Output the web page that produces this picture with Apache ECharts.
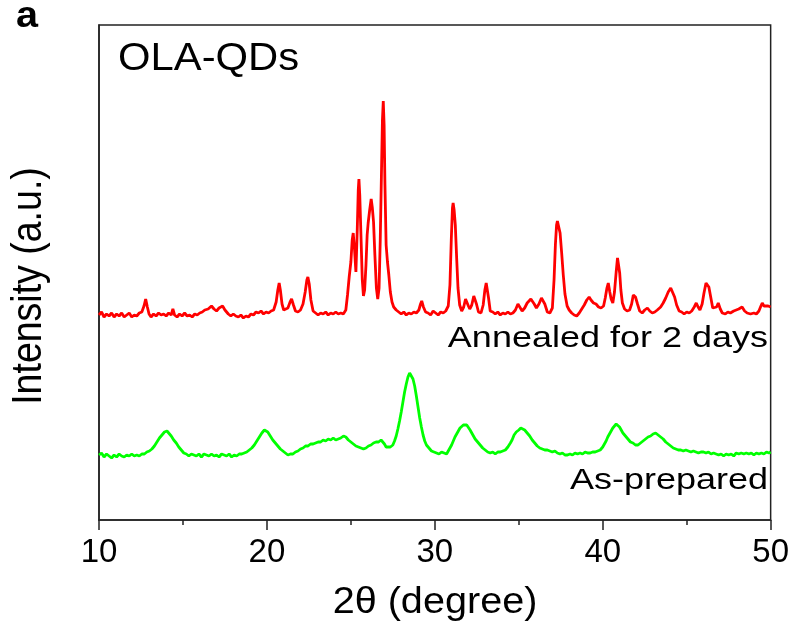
<!DOCTYPE html>
<html>
<head>
<meta charset="utf-8">
<script src="https://cdn.jsdelivr.net/npm/echarts@6/dist/echarts.min.js"></script>
<style>
  html, body { margin: 0; padding: 0; background: #fff; }
  #chart { width: 792px; height: 627px; }
</style>
</head>
<body>
<div id="chart"></div>
<script>
// XRD patterns: [2theta, intensity (a.u., stacked)]
const annealed = [
  [10.0, 205], [10.15, 208], [10.3, 203], [10.45, 206], [10.6, 204], [10.75, 207], [10.9, 203], [11.05, 206], [11.2, 204], [11.35, 207],
  [11.5, 203], [11.65, 205], [11.8, 207], [11.95, 203], [12.1, 205], [12.25, 204], [12.4, 207], [12.55, 208], [12.68, 214], [12.78, 221],
  [12.88, 213], [12.98, 206], [13.1, 203], [13.25, 206], [13.4, 204], [13.55, 207], [13.7, 205], [13.85, 206], [14.0, 204], [14.15, 207],
  [14.3, 205], [14.4, 211], [14.5, 205], [14.65, 203], [14.8, 206], [14.95, 204], [15.1, 207], [15.25, 204], [15.4, 205], [15.55, 203],
  [15.7, 206], [15.85, 205], [16.0, 207], [16.15, 208], [16.3, 210], [16.5, 211], [16.7, 214], [16.85, 211], [17.0, 209], [17.15, 212],
  [17.36, 214], [17.5, 210], [17.7, 206], [17.85, 204], [18.0, 206], [18.15, 204], [18.3, 203], [18.45, 205], [18.6, 202], [18.75, 204],
  [18.9, 203], [19.05, 206], [19.2, 205], [19.35, 208], [19.5, 207], [19.65, 209], [19.8, 206], [19.95, 208], [20.1, 207], [20.25, 209],
  [20.4, 210], [20.55, 218], [20.65, 230], [20.73, 237], [20.8, 230], [20.9, 216], [21.0, 210], [21.1, 208], [21.25, 212], [21.38, 218],
  [21.47, 221], [21.58, 215], [21.7, 209], [21.85, 208], [22.0, 210], [22.15, 216], [22.28, 228], [22.38, 240], [22.44, 243], [22.52, 236],
  [22.62, 220], [22.75, 209], [22.9, 207], [23.05, 205], [23.2, 207], [23.35, 206], [23.5, 208], [23.65, 205], [23.8, 207], [23.95, 206],
  [24.1, 208], [24.25, 206], [24.4, 207], [24.55, 206], [24.7, 210], [24.8, 225], [24.9, 243], [25.0, 258], [25.08, 280], [25.14, 287],
  [25.22, 270], [25.3, 248], [25.38, 290], [25.44, 330], [25.48, 341], [25.53, 325], [25.6, 285], [25.68, 240], [25.75, 224], [25.82, 230],
  [25.9, 255], [25.97, 285], [26.03, 297], [26.12, 310], [26.21, 321], [26.28, 312], [26.35, 298], [26.43, 265], [26.52, 232], [26.6, 221],
  [26.68, 232], [26.75, 280], [26.82, 345], [26.88, 400], [26.93, 419], [26.98, 395], [27.03, 335], [27.1, 275], [27.18, 258], [27.26, 245],
  [27.35, 228], [27.45, 218], [27.55, 213], [27.7, 210], [27.85, 208], [28.0, 206], [28.15, 208], [28.3, 205], [28.45, 207], [28.6, 206],
  [28.75, 208], [28.9, 207], [29.05, 210], [29.15, 216], [29.22, 219], [29.32, 213], [29.45, 208], [29.6, 207], [29.75, 205], [29.9, 209],
  [30.05, 207], [30.2, 205], [30.35, 208], [30.5, 207], [30.65, 209], [30.8, 214], [30.9, 235], [30.98, 280], [31.05, 312], [31.09, 317],
  [31.15, 310], [31.22, 295], [31.3, 262], [31.38, 232], [31.48, 215], [31.6, 209], [31.72, 213], [31.83, 221], [31.9, 222], [32.0, 214],
  [32.08, 211], [32.2, 215], [32.32, 224], [32.38, 226], [32.48, 216], [32.6, 208], [32.75, 207], [32.88, 215], [32.98, 230], [33.06, 237],
  [33.12, 236], [33.2, 222], [33.3, 209], [33.45, 208], [33.6, 206], [33.75, 208], [33.9, 205], [34.05, 207], [34.2, 206], [34.35, 208],
  [34.5, 206], [34.65, 207], [34.8, 210], [34.95, 216], [35.05, 214], [35.2, 209], [35.35, 212], [35.5, 217], [35.6, 216], [35.72, 221],
  [35.8, 223], [35.92, 216], [36.05, 212], [36.2, 216], [36.35, 222], [36.45, 224], [36.55, 216], [36.7, 208], [36.85, 207], [37.0, 212],
  [37.1, 240], [37.18, 275], [37.25, 295], [37.3, 299], [37.38, 293], [37.46, 287], [37.55, 268], [37.65, 245], [37.75, 226], [37.88, 214],
  [38.0, 210], [38.15, 207], [38.3, 205], [38.45, 204], [38.6, 207], [38.75, 211], [38.9, 215], [39.05, 220], [39.19, 223], [39.3, 220],
  [39.45, 217], [39.6, 216], [39.75, 213], [39.9, 212], [40.05, 214], [40.15, 222], [40.25, 232], [40.33, 237], [40.42, 228], [40.5, 221],
  [40.6, 217], [40.7, 228], [40.8, 248], [40.88, 262], [40.93, 262], [41.01, 247], [41.08, 230], [41.17, 217], [41.3, 211], [41.45, 209],
  [41.6, 210], [41.72, 216], [41.82, 225], [41.87, 227], [41.95, 223], [42.07, 216], [42.2, 209], [42.35, 207], [42.5, 210], [42.66, 212],
  [42.8, 209], [42.95, 207], [43.1, 208], [43.25, 210], [43.45, 213], [43.6, 217], [43.75, 222], [43.9, 228], [44.05, 232], [44.15, 230],
  [44.28, 223], [44.4, 215], [44.55, 209], [44.7, 208], [44.85, 206], [45.0, 208], [45.15, 207], [45.3, 209], [45.45, 213], [45.57, 217],
  [45.68, 213], [45.79, 210], [45.92, 216], [46.03, 227], [46.15, 237], [46.23, 239], [46.32, 233], [46.43, 223], [46.55, 212], [46.65, 210],
  [46.78, 213], [46.88, 217], [47.0, 211], [47.12, 207], [47.3, 206], [47.45, 208], [47.6, 207], [47.8, 209], [47.95, 210], [48.1, 211],
  [48.3, 213], [48.45, 209], [48.6, 207], [48.8, 206], [49.0, 207], [49.15, 206], [49.3, 209], [49.42, 214], [49.5, 217], [49.6, 214],
  [49.7, 212], [49.85, 214], [50.0, 213]
];

const prepared = [
  [10.0, 65], [10.15, 67], [10.3, 63], [10.45, 66], [10.6, 64], [10.75, 62], [10.9, 65], [11.05, 63], [11.2, 66], [11.35, 64],
  [11.5, 63], [11.65, 65], [11.8, 64], [11.95, 66], [12.1, 64], [12.25, 65], [12.4, 64], [12.55, 66], [12.7, 66], [12.85, 68],
  [13.0, 69], [13.15, 71], [13.3, 74], [13.45, 78], [13.6, 82], [13.75, 85], [13.9, 88], [14.05, 89], [14.15, 87], [14.3, 84],
  [14.45, 80], [14.6, 77], [14.75, 73], [14.9, 70], [15.05, 67], [15.2, 66], [15.35, 64], [15.5, 66], [15.65, 65], [15.8, 64],
  [15.95, 66], [16.1, 63], [16.25, 66], [16.4, 65], [16.55, 64], [16.7, 66], [16.85, 64], [17.0, 65], [17.15, 63], [17.3, 66],
  [17.45, 65], [17.6, 64], [17.75, 66], [17.9, 63], [18.05, 65], [18.2, 64], [18.35, 66], [18.5, 66], [18.65, 67], [18.8, 68],
  [18.95, 70], [19.1, 72], [19.25, 75], [19.4, 79], [19.55, 83], [19.7, 87], [19.85, 90], [19.94, 91], [20.05, 88], [20.2, 84],
  [20.35, 80], [20.5, 77], [20.65, 74], [20.8, 71], [20.95, 69], [21.1, 67], [21.25, 65], [21.4, 66], [21.55, 66], [21.7, 68],
  [21.85, 69], [22.0, 71], [22.15, 72], [22.3, 74], [22.45, 74], [22.6, 76], [22.75, 76], [22.9, 77], [23.05, 78], [23.2, 78],
  [23.35, 80], [23.5, 79], [23.65, 81], [23.8, 80], [23.95, 82], [24.1, 80], [24.25, 81], [24.4, 82], [24.56, 84], [24.7, 83],
  [24.85, 80], [25.0, 78], [25.15, 76], [25.3, 74], [25.45, 73], [25.6, 72], [25.75, 71], [25.9, 72], [26.05, 74], [26.2, 75],
  [26.35, 77], [26.5, 78], [26.65, 78], [26.8, 80], [26.9, 79], [27.0, 76], [27.1, 73], [27.2, 72], [27.35, 73], [27.5, 75],
  [27.6, 79], [27.7, 84], [27.8, 91], [27.9, 99], [28.0, 108], [28.1, 118], [28.2, 128], [28.3, 136], [28.4, 143], [28.5, 147],
  [28.6, 145], [28.7, 141], [28.8, 134], [28.9, 124], [29.0, 113], [29.1, 102], [29.2, 93], [29.3, 85], [29.4, 79], [29.5, 75],
  [29.65, 72], [29.8, 69], [29.95, 68], [30.1, 67], [30.25, 66], [30.4, 68], [30.55, 67], [30.7, 66], [30.8, 68], [30.9, 72],
  [31.0, 75], [31.1, 79], [31.2, 83], [31.3, 86], [31.4, 89], [31.5, 92], [31.6, 94], [31.7, 95], [31.8, 96], [31.9, 95],
  [32.0, 93], [32.1, 90], [32.2, 87], [32.3, 84], [32.4, 81], [32.55, 78], [32.7, 75], [32.85, 72], [33.0, 70], [33.15, 68],
  [33.3, 67], [33.45, 68], [33.6, 66], [33.75, 68], [33.9, 68], [34.05, 69], [34.2, 70], [34.35, 73], [34.5, 77], [34.6, 80],
  [34.72, 85], [34.85, 88], [35.0, 90], [35.12, 92], [35.22, 92], [35.35, 90], [35.5, 87], [35.65, 84], [35.8, 80], [35.95, 77],
  [36.1, 74], [36.25, 72], [36.4, 71], [36.55, 70], [36.7, 70], [36.85, 69], [37.0, 68], [37.15, 69], [37.3, 67], [37.45, 66],
  [37.6, 67], [37.75, 65], [37.9, 65], [38.05, 66], [38.2, 65], [38.35, 67], [38.5, 66], [38.65, 67], [38.8, 66], [38.95, 68],
  [39.1, 67], [39.25, 67], [39.4, 68], [39.55, 68], [39.7, 69], [39.85, 70], [40.0, 73], [40.1, 76], [40.2, 79], [40.3, 83],
  [40.4, 86], [40.5, 89], [40.6, 92], [40.7, 94], [40.8, 96], [40.9, 95], [41.0, 93], [41.1, 90], [41.2, 87], [41.35, 84],
  [41.5, 81], [41.65, 78], [41.8, 77], [41.95, 75], [42.1, 75], [42.25, 77], [42.4, 79], [42.55, 81], [42.7, 83], [42.85, 84],
  [43.0, 86], [43.15, 87], [43.3, 85], [43.45, 83], [43.6, 81], [43.75, 78], [43.9, 76], [44.05, 74], [44.2, 72], [44.35, 71],
  [44.5, 70], [44.65, 70], [44.8, 69], [44.95, 70], [45.1, 69], [45.25, 68], [45.4, 69], [45.55, 68], [45.7, 67], [45.85, 68],
  [46.0, 68], [46.15, 67], [46.3, 68], [46.45, 66], [46.6, 67], [46.75, 66], [46.9, 65], [47.05, 66], [47.2, 64], [47.35, 66],
  [47.5, 65], [47.65, 66], [47.8, 64], [47.95, 67], [48.1, 66], [48.25, 67], [48.4, 66], [48.55, 67], [48.7, 66], [48.85, 67],
  [49.0, 65], [49.15, 67], [49.3, 66], [49.45, 67], [49.6, 66], [49.75, 68], [49.9, 67], [50.0, 68]
];

const xTicks = [10, 20, 30, 40, 50];
const font = 'Liberation Sans';

const chart = echarts.init(document.getElementById('chart'));

const option = {
  animation: false,
  backgroundColor: '#fff',
  grid: {
    left: 99, right: 21, top: 25, bottom: 107,
    show: true, borderColor: '#222', borderWidth: 1.5
  },
  xAxis: {
    type: 'value',
    min: xTicks[0],
    max: xTicks[xTicks.length - 1],
    interval: 10,
    axisLine: { show: true, lineStyle: { color: '#222', width: 1.5 } },
    axisTick: { show: true, inside: false, length: 10, lineStyle: { color: '#222', width: 1.5 } },
    minorTick: { show: true, splitNumber: 2, length: 5, lineStyle: { color: '#222', width: 1.5 } },
    splitLine: { show: false },
    axisLabel: { color: '#000', fontSize: 33, fontFamily: font, margin: 16 }
  },
  yAxis: {
    type: 'value',
    min: 0,
    max: 495,
    axisLine: { show: true, lineStyle: { color: '#222', width: 1.5 } },
    axisTick: { show: false },
    axisLabel: { show: false },
    splitLine: { show: false }
  },
  series: [
    {
      type: 'line',
      data: annealed,
      showSymbol: false,
      lineStyle: { color: '#ff0000', width: 2.8 },
      z: 3
    },
    {
      type: 'line',
      data: prepared,
      showSymbol: false,
      lineStyle: { color: '#00ff00', width: 2.8 },
      z: 3
    }
  ],
  graphic: [
    // panel letter
    { type: 'text', x: 16, y: 17, scaleX: 1.1, style: { text: 'a', fontSize: 36, fontWeight: 'bold', fontFamily: font, fill: '#000', textVerticalAlign: 'middle' } },
    { type: 'text', x: 118, y: 60, scaleX: 1.1, style: { text: 'OLA-QDs', fontSize: 38, fontFamily: font, fill: '#000', textVerticalAlign: 'middle' } },
    { type: 'text', x: 768, y: 339, scaleX: 1.22, style: { text: 'Annealed for 2 days', fontSize: 29.5, fontFamily: font, fill: '#000', textAlign: 'right', textVerticalAlign: 'middle' } },
    { type: 'text', x: 768, y: 481, scaleX: 1.2, style: { text: 'As-prepared', fontSize: 30, fontFamily: font, fill: '#000', textAlign: 'right', textVerticalAlign: 'middle' } },
    // axis titles
    { type: 'text', x: 29, y: 286, rotation: Math.PI / 2, scaleY: 1.12, style: { text: 'Intensity (a.u.)', fontSize: 37.5, fontFamily: font, fill: '#000', textAlign: 'center', textVerticalAlign: 'middle' } },
    { type: 'text', x: 435, y: 603, scaleX: 1.1, style: { text: '2\u03b8 (degree)', fontSize: 36, fontFamily: font, fill: '#000', textAlign: 'center', textVerticalAlign: 'middle' } }
  ]
};

chart.setOption(option);
</script>
</body>
</html>
